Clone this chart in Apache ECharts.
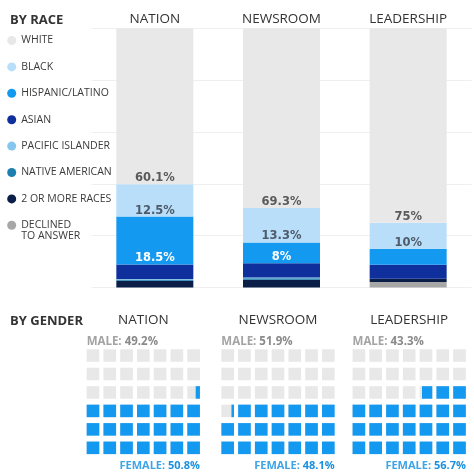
<!DOCTYPE html>
<html>
<head>
<meta charset="utf-8">
<script src="https://cdn.jsdelivr.net/npm/echarts@6/dist/echarts.min.js"></script>
<style>
html,body{margin:0;padding:0;background:#fff;}
#c{width:474px;height:476px;}
</style>
</head>
<body>
<div id="c"></div>
<script>
// ---- data ----
const raceCategories = ['NATION', 'NEWSROOM', 'LEADERSHIP'];
const white    = [60.1, 69.3, 75];
const black    = [12.5, 13.3, 10];
const hispanic = [18.5, 8, 6.2];
const asian    = [5.6, 5.5, 5.4];
const pacific  = [0.2, 0.3, 0];
const nativeAm = [0.5, 0.6, 0];
const multi    = [2.6, 3.0, 1.3];
const declined = [0, 0, 2.1];
const raceTicks = [0, 20, 40, 60, 80, 100];

const genderCategories = ['NATION', 'NEWSROOM', 'LEADERSHIP'];
const male   = [49.2, 51.9, 43.3];
const female = [50.8, 48.1, 56.7];

// ---- styles ----
const C = {
  white: '#e8e8e8', black: '#b8defa', hispanic: '#1499f0', asian: '#0f2f9c',
  pacific: '#84c6ee', nativeAm: '#1b7fb0', multi: '#0b1e47', declined: '#a7a7a7',
  waffleGray: '#e8e8e8', waffleBlue: '#1499f0'
};
const TITLE_FONT = 'Open Sans';

function pctLabel(color) {
  return {
    show: true, position: 'insideBottom', distance: 0,
    color: color, fontFamily: 'DejaVu Sans', fontWeight: 'bold', fontSize: 11.5,
    formatter: p => (p.value >= 7 ? p.value + '%' : '')
  };
}

const raceSeries = [
  {name: 'DECLINED TO ANSWER', data: declined, color: C.declined},
  {name: '2 OR MORE RACES', data: multi, color: C.multi},
  {name: 'NATIVE AMERICAN', data: nativeAm, color: C.nativeAm},
  {name: 'PACIFIC ISLANDER', data: pacific, color: C.pacific},
  {name: 'ASIAN', data: asian, color: C.asian},
  {name: 'HISPANIC/LATINO', data: hispanic, color: C.hispanic, label: pctLabel('#ffffff')},
  {name: 'BLACK', data: black, color: C.black, label: pctLabel('#4e5a68')},
  {name: 'WHITE', data: white, color: C.white, label: pctLabel('#5a5a5a')}
].map(s => ({
  type: 'bar', stack: 'race', name: s.name, data: s.data, barWidth: 77,
  xAxisIndex: 0, yAxisIndex: 0,
  itemStyle: {color: s.color}, label: s.label || {show: false},
  emphasis: {disabled: true}, silent: true
}));

// waffle grids
const waffleCenters = [143.3, 278.0, 409.2];
const COLS = 7, ROWS = 6;
const pitchX = 16.77, pitchY = 18.46;
const grids = [{left: 91.5, top: 28.5, width: 380, height: 259}];
const xAxes = [{
  type: 'category', gridIndex: 0, data: raceCategories, position: 'top',
  axisLine: {show: false}, axisTick: {show: false},
  axisLabel: {show: true, margin: 2, fontFamily: TITLE_FONT, fontSize: 13.5, color: '#333'}
}];
const yAxes = [{
  type: 'value', gridIndex: 0, min: raceTicks[0], max: raceTicks[raceTicks.length - 1],
  interval: raceTicks[1] - raceTicks[0],
  axisLine: {show: false}, axisTick: {show: false}, axisLabel: {show: false},
  splitLine: {show: true, lineStyle: {color: '#efefef', width: 1}}
}];
const waffleSeries = [];
const titles = [
  {text: 'BY RACE', left: 10, top: 20, textAlign: 'left', textVerticalAlign: 'middle', padding: 0,
   textStyle: {fontFamily: TITLE_FONT, fontWeight: 'bold', fontSize: 13, color: '#333'}},
  {text: 'BY GENDER', left: 10, top: 321, textAlign: 'left', textVerticalAlign: 'middle', padding: 0,
   textStyle: {fontFamily: TITLE_FONT, fontWeight: 'bold', fontSize: 13, color: '#333'}}
];

genderCategories.forEach((cat, gi) => {
  const cx = waffleCenters[gi];
  const left = cx - pitchX * COLS / 2;
  const top = 346.3;
  grids.push({left: left, top: top, width: pitchX * COLS, height: pitchY * ROWS});
  xAxes.push({type: 'value', gridIndex: gi + 1, min: -0.5, max: COLS - 0.5, show: false});
  yAxes.push({type: 'value', gridIndex: gi + 1, min: -0.5, max: ROWS - 0.5, inverse: true, show: false});
  const F = female[gi] / 100 * COLS * ROWS;
  const cells = [];
  for (let r = 0; r < ROWS; r++) {
    for (let c = 0; c < COLS; c++) {
      const k = (ROWS - 1 - r) * COLS + (COLS - 1 - c);
      const fill = Math.max(0, Math.min(1, F - k));
      cells.push([c, r, fill]);
    }
  }
  waffleSeries.push({
    type: 'custom', xAxisIndex: gi + 1, yAxisIndex: gi + 1, data: cells, silent: true,
    renderItem: function (params, api) {
      const p = api.coord([api.value(0), api.value(1)]);
      const s = api.size([1, 1]);
      const w = s[0] * 0.755, h = s[1] * 0.68;
      const f = api.value(2);
      const children = [{type: 'rect', shape: {x: p[0] - w / 2, y: p[1] - h / 2, width: w, height: h},
                         style: {fill: C.waffleGray}}];
      if (f > 0) {
        children.push({type: 'rect', shape: {x: p[0] + w / 2 - w * f, y: p[1] - h / 2, width: w * f, height: h},
                       style: {fill: C.waffleBlue}});
      }
      return {type: 'group', children: children};
    }
  });
  titles.push({text: cat, left: cx, top: 320, textAlign: 'center', textVerticalAlign: 'middle', padding: 0,
               textStyle: {fontFamily: TITLE_FONT, fontSize: 13.5, fontWeight: 'normal', color: '#333'}});
  titles.push({text: '{l|MALE: }{v|' + male[gi] + '%}', left: left + (pitchX - pitchX * 0.755) / 2, top: 341.5,
               textAlign: 'left', textVerticalAlign: 'middle', padding: 0,
               textStyle: {rich: {
                 l: {fontFamily: TITLE_FONT, fontSize: 11.5, color: '#a3a3a3'},
                 v: {fontFamily: TITLE_FONT, fontSize: 11.5, fontWeight: 'bold', color: '#8a8a8a'}}}});
  titles.push({text: '{l|FEMALE: }{v|' + female[gi] + '%}', left: left + pitchX * COLS - (pitchX - pitchX * 0.755) / 2, top: 465.5,
               textAlign: 'right', textVerticalAlign: 'middle', padding: 0,
               textStyle: {rich: {
                 l: {fontFamily: TITLE_FONT, fontSize: 11, color: '#3ea4e6'},
                 v: {fontFamily: TITLE_FONT, fontSize: 11, fontWeight: 'bold', color: '#1a90e0'}}}});
});

const legendNames = ['WHITE', 'BLACK', 'HISPANIC/LATINO', 'ASIAN', 'PACIFIC ISLANDER', 'NATIVE AMERICAN', '2 OR MORE RACES', 'DECLINED TO ANSWER'];
const LEG_TEXT = {fontFamily: TITLE_FONT, fontSize: 10.5, color: '#3a3a3a'};

const option = {
  animation: false,
  backgroundColor: '#ffffff',
  title: titles,
  legend: {
    orient: 'vertical', left: 7.2, top: 34.5, padding: 0,
    icon: 'circle', itemWidth: 9, itemHeight: 9, itemGap: 14.4,
    selectedMode: false,
    textStyle: Object.assign({lineHeight: 12}, LEG_TEXT),
    formatter: n => (n === 'DECLINED TO ANSWER' ? 'DECLINED' : n),
    data: legendNames
  },
  graphic: [{
    type: 'text', left: 21.2, top: 230.5, silent: true,
    style: Object.assign({text: 'TO ANSWER', fill: LEG_TEXT.color,
      font: 'normal ' + LEG_TEXT.fontSize + 'px "' + LEG_TEXT.fontFamily + '"'})
  }],
  grid: grids,
  xAxis: xAxes,
  yAxis: yAxes,
  series: raceSeries.concat(waffleSeries)
};

const chart = echarts.init(document.getElementById('c'), null, {renderer: 'canvas'});
chart.setOption(option);
</script>
</body>
</html>
